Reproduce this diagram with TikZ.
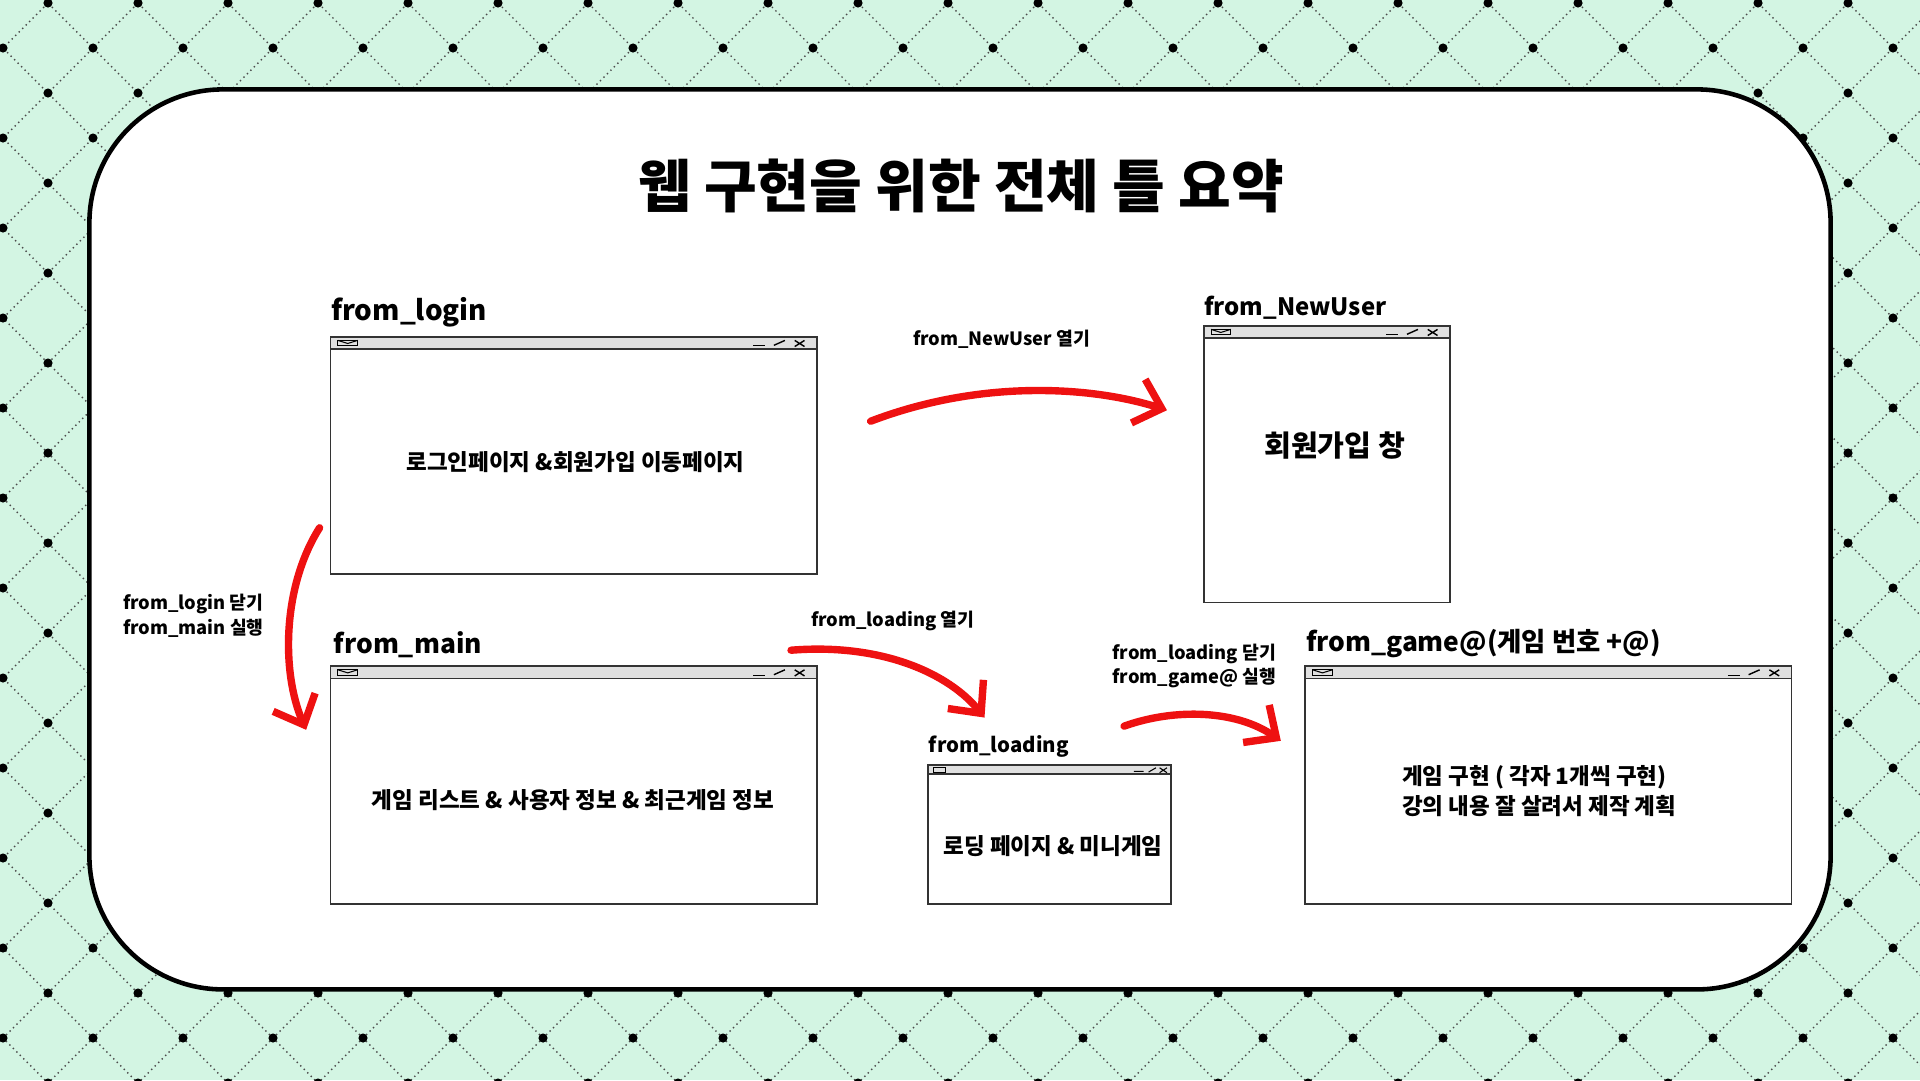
\documentclass[tikz,border=0pt]{standalone}
\usepackage{fontspec}
\usepackage{xcolor}
\usetikzlibrary{arrows.meta}
\setmainfont{Noto Sans CJK KR}
\definecolor{mint}{HTML}{D3F5E3}
\definecolor{barred}{HTML}{EE1111}

\tikzset{
  win/.style={draw=black!80, line width=0.5pt, fill=white},
  winbar/.style={draw=black!80, line width=0.5pt, fill=black!12},
  winlabel/.style={anchor=south west, inner sep=0pt, font=\bfseries},
  wintext/.style={font=\bfseries\fontsize{6.4}{8.5}\selectfont, align=center},
  steplabel/.style={font=\bfseries\fontsize{5.2}{7}\selectfont, align=left, inner sep=0pt},
  redarrow/.style={barred, line width=2.1pt, line cap=round,
    -{Straight Barb[length=7pt, width=13pt, line width=2.1pt]}}
}

\newcommand{\winicons}[3]{% x1 x2 ytop
  \draw[line width=0.3pt] (#1+6,#3+3) rectangle (#1+22,#3+7.5);
  \draw[line width=0.3pt] (#1+6,#3+3) -- (#1+14,#3+5.5) -- (#1+22,#3+3);
  \draw[line width=0.3pt] (#2-52,#3+7.5) -- (#2-42,#3+7.5);
  \draw[line width=0.4pt] (#2-35,#3+7) -- (#2-26,#3+3);
  \draw[line width=0.4pt] (#2-18,#3+3) -- (#2-10,#3+8) (#2-18,#3+8) -- (#2-10,#3+3);
}

\begin{document}
\begin{tikzpicture}[x=0.012245cm, y=-0.012245cm]
\useasboundingbox (0,0) rectangle (1568,882);

% background
\fill[mint] (0,0) rectangle (1568,882);
\begin{scope}
\clip (0,0) rectangle (1568,882);
\foreach \k in {-15,...,36}{
  \draw[black!70, densely dotted, line width=0.4pt] (41.65+73.5*\k,0) -- (41.65+73.5*\k-1000,1000);
  \draw[black!70, densely dotted, line width=0.4pt] (36.75+73.5*\k,0) -- (36.75+73.5*\k+1000,1000);
}
\foreach \i in {-1,...,22}{
  \foreach \j in {-1,...,13}{
    \fill (39.2+73.5*\i,2.45+73.5*\j) circle (1.3pt);
    \fill (2.45+73.5*\i,39.2+73.5*\j) circle (1.3pt);
  }
}
\end{scope}

% main panel
\draw[line width=1.3pt, fill=white, rounded corners=38pt] (73,73) rectangle (1495,808);

\node[font=\bfseries\fontsize{16.3}{20}\selectfont] (title) at (785,152) {웹 구현을 위한 전체 틀 요약};

% windows
\draw[win] (270,275) rectangle (667,469);
\draw[winbar] (270,275) rectangle (667,285);
\winicons{270}{667}{275}
\node[winlabel, font=\bfseries\fontsize{7.9}{10}\selectfont] (loginlabel) at (270,268) {from\_login};
\node[wintext] (login) at (470,377) {로그인페이지 \&회원가입 이동페이지};

\draw[win] (983,266) rectangle (1184,492);
\draw[winbar] (983,266) rectangle (1184,276);
\winicons{983}{1184}{266}
\node[winlabel, font=\bfseries\fontsize{6.8}{8}\selectfont] (newuserlabel) at (983,261) {from\_NewUser};
\node[wintext, font=\bfseries\fontsize{8.3}{10}\selectfont] (newuser) at (1090,364) {회원가입 창};

\draw[win] (270,544) rectangle (667,738);
\draw[winbar] (270,544) rectangle (667,554);
\winicons{270}{667}{544}
\node[winlabel, font=\bfseries\fontsize{7.5}{9}\selectfont] (mainlabel) at (272,538) {from\_main};
\node[wintext] (main) at (468,653) {게임 리스트 \& 사용자 정보 \& 최근게임 정보};

\draw[win] (758,625) rectangle (956,738);
\draw[winbar] (758,625) rectangle (956,632);
\draw[line width=0.3pt] (762,627) rectangle (772,630.5);
\draw[line width=0.3pt] (926,630) -- (934,630) (938,630.5) -- (944,627) (947,627) -- (953,631) (947,631) -- (953,627);
\node[winlabel, font=\bfseries\fontsize{5.8}{7}\selectfont] (loadinglabel) at (758,619) {from\_loading};
\node[wintext] (loading) at (860,691) {로딩 페이지 \& 미니게임};

\draw[win] (1066,544) rectangle (1463,738);
\draw[winbar] (1066,544) rectangle (1463,554);
\winicons{1066}{1463}{544}
\node[winlabel, font=\bfseries\fontsize{7.5}{9}\selectfont] (gamelabel) at (1066,538) {from\_game@(게임 번호 +@)};
\node[wintext, align=left] (game) at (1257,646) {게임 구현 ( 각자 1개씩 구현)\\강의 내용 잘 살려서 제작 계획};

% arrows
\coordinate (a1s) at (711,344);
\coordinate (a1e) at (953,335);
\draw[redarrow] (a1s) .. controls (800,310) and (890,315) .. (a1e);
\node[steplabel] (l1) at (818,277) {from\_NewUser 열기};

\coordinate (a2s) at (261,431);
\coordinate (a2e) at (250,596);
\draw[redarrow] (a2s) .. controls (230,480) and (230,550) .. (a2e);
\node[steplabel, anchor=west] (l2) at (100,503) {from\_login 닫기\\from\_main 실행};

\coordinate (a3s) at (646,531);
\coordinate (a3e) at (804,586);
\draw[redarrow] (a3s) .. controls (720,525) and (775,550) .. (a3e);
\node[steplabel] (l3) at (729,507) {from\_loading 열기};

\coordinate (a4s) at (918,593);
\coordinate (a4e) at (1046,605);
\draw[redarrow] (a4s) .. controls (960,578) and (1010,580) .. (a4e);
\node[steplabel, anchor=west] (l4) at (908,544) {from\_loading 닫기\\from\_game@ 실행};

\end{tikzpicture}
\end{document}
